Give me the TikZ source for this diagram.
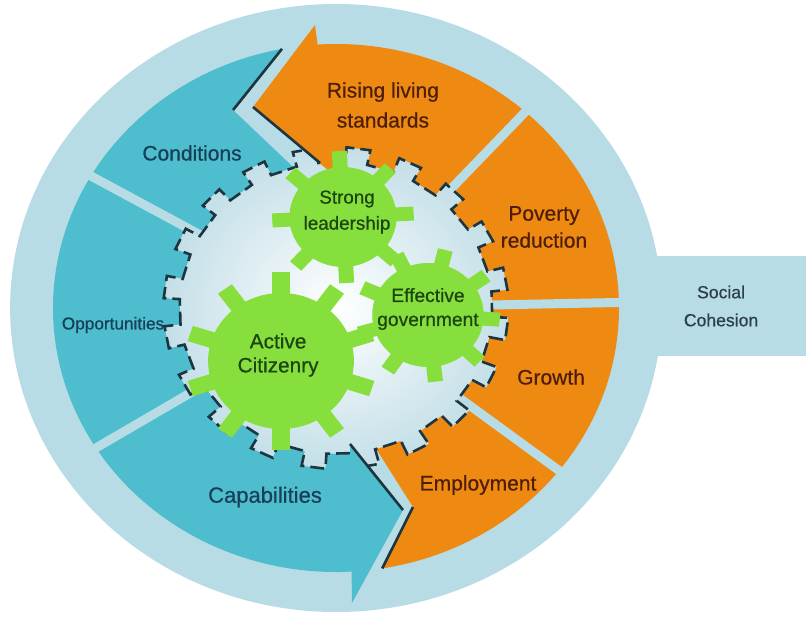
\documentclass[tikz,border=0pt]{standalone}
\usepackage{fontspec}
\setmainfont{Liberation Sans}[FakeBold=0.6]
\usetikzlibrary{calc}
\definecolor{ringblue}{HTML}{B7DCE5}
\definecolor{bandteal}{HTML}{4EBDCE}
\definecolor{bandorange}{HTML}{EE8A12}
\definecolor{coggreen}{HTML}{86DF3C}
\definecolor{hubblue}{HTML}{C4DFE8}
\definecolor{edgedark}{HTML}{1D3540}
\definecolor{tealtext}{HTML}{173F56}
\definecolor{orangetext}{HTML}{4E1E08}
\definecolor{greentext}{HTML}{1C4510}
\definecolor{greytext}{HTML}{2C3D48}
\tikzset{
  ring/.style      = {fill=ringblue},
  gap/.style       = {draw=ringblue, line width=4.5pt},
  hub/.style       = {inner color=white, outer color=hubblue, draw=edgedark,
                      line width=1.3pt, dash pattern=on 7pt off 3pt},
  rim/.style       = {draw=edgedark, line width=1.3pt},
  cog/.style       = {fill=coggreen},
  lbl/.style       = {inner sep=0pt, align=center, font=\fontsize{10.5}{14}\selectfont},
  teal lbl/.style  = {lbl, text=tealtext},
  orange lbl/.style= {lbl, text=orangetext},
  cog lbl/.style   = {lbl, text=greentext},
  bar/.style       = {fill=ringblue, minimum width=84.9pt, minimum height=50pt,
                      inner sep=0pt, align=center, text=greytext,
                      font=\fontsize{8.8}{14}\selectfont},
}
\begin{document}
\begin{tikzpicture}[x=0.536pt, y=0.5pt]
  \useasboundingbox (-313.43,-310) rectangle (438.43,308);
  % corners of the two arrow heads and the notches they point into
  \coordinate (rls out) at (-19.6,283);
  \coordinate (rls tip) at (-77.4,201);
  \coordinate (rls in)  at (-1,132);
  \coordinate (cond tip) at (-96,198);
  \coordinate (cap out) at (14.9,-295);
  \coordinate (cap tip) at (62.5,-202);
  \coordinate (cap in)  at (13.1,-136);
  \coordinate (emp tip) at (71.8,-199);

  \node[bar] (cohesion) at (359.2,2) {Social\\Cohesion};
  \fill[ring] (0,0) circle[radius=304];

  % bands
  \fill[fill=bandteal] (150:135) -- (150:264) arc[start angle=150, end angle=101, radius=264]
    -- (cond tip) -- (-40,141) -- (105:135) arc[start angle=105, end angle=150, radius=135] -- cycle;
  \fill[fill=bandorange] (285:135) -- (38.2,-142) -- (emp tip) -- (279.4:264)
    arc[start angle=279.4, end angle=322, radius=264] -- (322:135)
    arc[start angle=322, end angle=285, radius=135] -- cycle;
  \foreach \a/\b/\col in {150/212/bandteal, 212/277/bandteal, 322/361.2/bandorange,
                          361.2/408/bandorange, 408/455/bandorange}
    \fill[fill=\col] (\a:135) -- (\a:264) arc[start angle=\a, end angle=\b, radius=264]
      -- (\b:135) arc[start angle=\b, end angle=\a, radius=135] -- cycle;
  \foreach \g in {150,212,322,1.2,48}
    \draw[gap] (\g:132) -- (\g:272);

  % hub with its ring of notches
  \shadedraw[hub] (-3.5:146)
    \foreach \k [evaluate=\k as \p using 18*\k+6.5, evaluate=\k as \q using 18*\k+14.5] in {0,...,19}
      { -- (\p:146) -- (\p:161) -- (\q:161) -- (\q:146) } -- cycle;

  % arrow heads
  \fill[fill=bandorange] (rls out) -- (rls tip) -- (rls in) -- cycle;
  \fill[fill=bandteal] (cap out) -- (cap tip) -- (cap in) -- cycle;
  \draw[rim] (101:264) -- (cond tip);
  \draw[rim] (rls tip) -- (-14.9,145);
  \draw[rim] (cap in) -- (cap tip);
  \draw[rim] (emp tip) -- (279.4:264);

  % cogs
  \coordinate (sl) at (6.5,91);
  \coordinate (eg) at (85.8,-7);
  \coordinate (ac) at (-51.3,-53);
  \foreach \ctr/\rb/\rt/\w/\n/\off in {sl/50/66/7/8/93, eg/52/67/7/9/-4, ac/68/89/8/10/90} {
    \fill[cog] (\ctr) circle[radius=\rb];
    \foreach \i [evaluate=\i as \a using \off+360*\i/\n,
                 evaluate=\i as \lft using \off+360*\i/\n+90,
                 evaluate=\i as \rgt using \off+360*\i/\n-90] in {1,...,\n}
      \fill[cog] ($(\ctr)+(\lft:\w)$) -- ($(\ctr)+(\a:\rt)+(\lft:\w)$)
        -- ($(\ctr)+(\a:\rt)+(\rgt:\w)$) -- ($(\ctr)+(\rgt:\w)$) -- cycle;
  }

  % labels
  \node[orange lbl, font=\fontsize{10.5}{15}\selectfont] (rising) at (43.8,203) {Rising living\\standards};
  \node[orange lbl, font=\fontsize{10.5}{13.5}\selectfont] (poverty) at (194,81) {Poverty\\reduction};
  \node[orange lbl] (growth) at (200.6,-69) {Growth};
  \node[orange lbl] (employ) at (132.5,-177) {Employment};
  \node[teal lbl] (cond) at (-134.3,155) {Conditions};
  \node[teal lbl, font=\fontsize{8.6}{12}\selectfont] (opp) at (-208,-17) {Opportunities};
  \node[teal lbl, font=\fontsize{11}{14}\selectfont] (capab) at (-66.2,-189) {Capabilities};
  \node[cog lbl, font=\fontsize{9.4}{13}\selectfont] (lead) at (10.3,96) {Strong\\leadership};
  \node[cog lbl, font=\fontsize{9.6}{12}\selectfont] (gov) at (85.8,-1) {Effective\\government};
  \node[cog lbl, font=\fontsize{10.4}{12}\selectfont] (citizen) at (-54,-47) {Active\\Citizenry};
\end{tikzpicture}
\end{document}
